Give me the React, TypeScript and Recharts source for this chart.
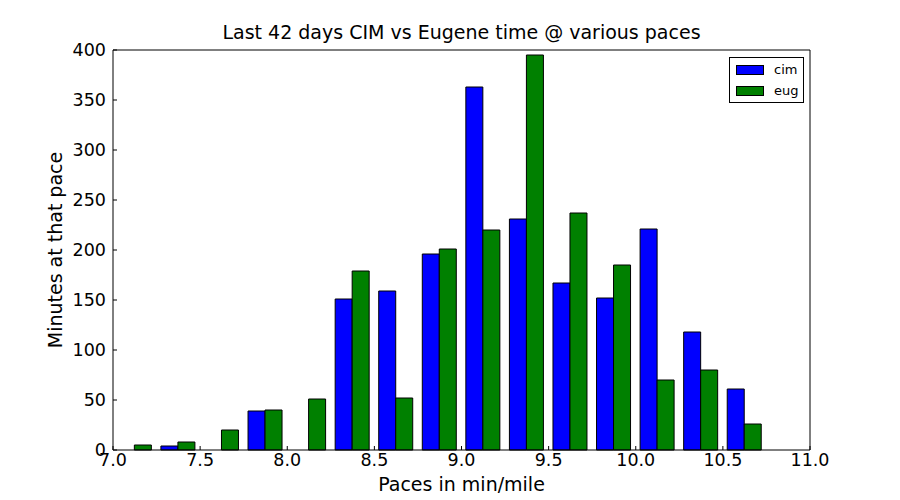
import { Bar, BarChart, Legend, XAxis, YAxis } from 'recharts';

// bin centres of the 0.25 min/mile histogram bins
const paceBins = [
  7.125, 7.375, 7.625, 7.875, 8.125, 8.375, 8.625, 8.875,
  9.125, 9.375, 9.625, 9.875, 10.125, 10.375, 10.625, 10.875,
];
const cimMinutes = [0, 4, 0, 39, 0, 151, 159, 196, 363, 231, 167, 152, 221, 118, 61, 0];
const eugMinutes = [5, 8, 20, 40, 51, 179, 52, 201, 220, 395, 237, 185, 70, 80, 26, 0];

const paceTicks = [7.0, 7.5, 8.0, 8.5, 9.0, 9.5, 10.0, 10.5, 11.0];
const minuteTicks = [0, 50, 100, 150, 200, 250, 300, 350, 400];

const seriesNames = ['cim', 'eug'];
const seriesColors = ['#0000ff', '#008000'];

const chartData = paceBins.map((pace, i) => ({
  pace,
  cim: cimMinutes[i],
  eug: eugMinutes[i],
}));

const font = 'DejaVu Sans, sans-serif';
const tickStyle = { fontSize: 17.5, fill: '#000', fontFamily: font };

function BoxLegend() {
  return (
    <div
      style={{
        width: 75,
        height: 46,
        boxSizing: 'border-box',
        border: '1px solid #000',
        background: '#fff',
        fontFamily: font,
        fontSize: 13,
        padding: '1px 0 0 6px',
      }}
    >
      {seriesNames.map((name, i) => (
        <div key={name} style={{ display: 'flex', alignItems: 'center', height: 21 }}>
          <span
            style={{
              display: 'inline-block',
              width: 28,
              height: 10,
              boxSizing: 'border-box',
              background: seriesColors[i],
              border: '1px solid #000',
              marginRight: 10,
            }}
          />
          {name}
        </div>
      ))}
    </div>
  );
}

export default function App() {
  return (
    <div style={{ position: 'absolute', left: 0, top: 0, width: 900, height: 500, background: '#fff' }}>
      <div
        style={{
          position: 'absolute',
          top: 21,
          left: 113,
          width: 697,
          textAlign: 'center',
          fontFamily: font,
          fontSize: 19,
        }}
      >
        Last 42 days CIM vs Eugene time @ various paces
      </div>
      <BarChart
        width={900}
        height={500}
        data={chartData}
        margin={{ top: 40, right: 80, bottom: 6, left: 53 }}
        barCategoryGap="10%"
        barGap={0}
      >
        <XAxis
          dataKey="pace"
          type="number"
          domain={[7, 11]}
          ticks={paceTicks}
          tickFormatter={(v: number) => v.toFixed(1)}
          height={44}
          tickSize={-4}
          tickMargin={8}
          axisLine={{ stroke: '#000' }}
          tickLine={{ stroke: '#000' }}
          tick={tickStyle}
          label={{ value: 'Paces in min/mile', position: 'center', dy: 12, fontSize: 19, fill: '#000', fontFamily: font }}
        />
        <XAxis
          xAxisId="top"
          orientation="top"
          type="number"
          domain={[7, 11]}
          allowDataOverflow
          ticks={paceTicks}
          height={10}
          tickSize={-4}
          tick={false}
          axisLine={{ stroke: '#000' }}
          tickLine={{ stroke: '#000' }}
        />
        <YAxis
          type="number"
          domain={[0, 400]}
          ticks={minuteTicks}
          width={60}
          tickSize={-4}
          tickMargin={11}
          axisLine={{ stroke: '#000' }}
          tickLine={{ stroke: '#000' }}
          tick={tickStyle}
          label={{ value: 'Minutes at that pace', angle: -90, position: 'center', dx: -28, fontSize: 19, fill: '#000', fontFamily: font }}
        />
        <YAxis
          yAxisId="right"
          orientation="right"
          type="number"
          domain={[0, 400]}
          allowDataOverflow
          ticks={minuteTicks}
          width={10}
          tickSize={-4}
          tick={false}
          axisLine={{ stroke: '#000' }}
          tickLine={{ stroke: '#000' }}
        />
        <Legend
          content={<BoxLegend />}
          layout="horizontal"
          align="center"
          verticalAlign="middle"
          wrapperStyle={{ left: 729, top: 57, width: 75, height: 46 }}
        />
        <Bar dataKey="cim" name="cim" fill={seriesColors[0]} stroke="#000" strokeWidth={1} isAnimationActive={false} />
        <Bar dataKey="eug" name="eug" fill={seriesColors[1]} stroke="#000" strokeWidth={1} isAnimationActive={false} />
      </BarChart>
    </div>
  );
}
